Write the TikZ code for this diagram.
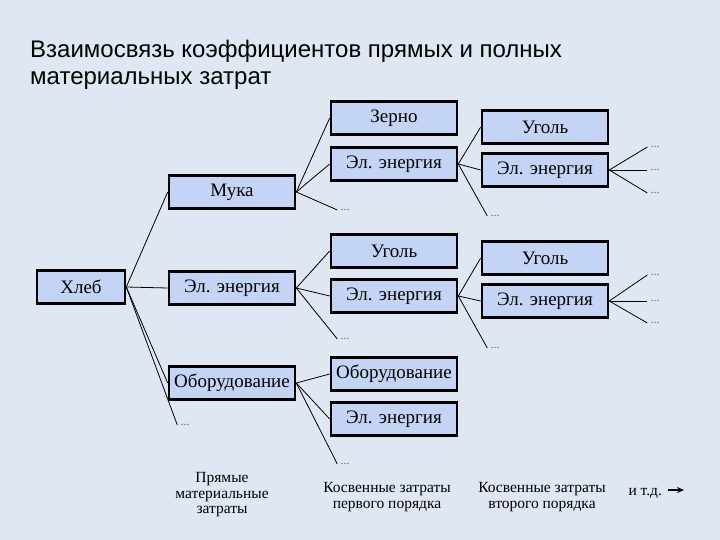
\documentclass[tikz,border=0pt]{standalone}
\usepackage{fontspec}
\setmainfont{Liberation Serif}
\newfontfamily\titlefont{Liberation Sans}
\usetikzlibrary{arrows.meta}
\definecolor{slideBg}{HTML}{DFE8F2}
\definecolor{boxFill}{HTML}{C4D4F4}
\definecolor{dotGray}{HTML}{6A6A6A}

\begin{document}
\begin{tikzpicture}[x=1bp, y=-1bp,
      bx/.style={draw=black, line width=2.6bp, fill=boxFill,
                 minimum width=126bp, minimum height=33bp, inner sep=1bp,
                 font=\fontsize{19bp}{20bp}\selectfont},
      dt/.style={inner sep=0pt, text=dotGray, font=\fontsize{12bp}{12bp}\selectfont},
      lab/.style={align=center, font=\fontsize{15.5bp}{15.5bp}\selectfont},
      ln/.style={line width=0.8bp, black}]
    \useasboundingbox (0,0) rectangle (720,540);
    \fill[slideBg] (0,0) rectangle (720,540);
    \node[anchor=north west, inner sep=0pt, align=left,
          font=\titlefont\fontsize{24bp}{27bp}\selectfont] (ti) at (30,40)
      {Взаимосвязь коэффициентов прямых и полных\\материальных затрат};
    % прямые затраты
    \node[bx, minimum width=88bp] (xl) at (81,287) {Хлеб};
    \node[bx] (mu)  at (232,192) {Мука};
    \node[bx] (ee1) at (232,288) {Эл. энергия};
    \node[bx] (ob1) at (232,383) {Оборудование};
    \node[dt] (d1)  at (185,425) {...};
    % первого порядка
    \node[bx] (ze)   at (394,118) {Зерно};
    \node[bx] (ee2a) at (394,164) {Эл. энергия};
    \node[dt] (d2a)  at (345,210) {...};
    \node[bx] (ug2b) at (394,251) {Уголь};
    \node[bx] (ee2b) at (394,296) {Эл. энергия};
    \node[dt] (d2b)  at (345,339) {...};
    \node[bx] (ob2c) at (394,374) {Оборудование};
    \node[bx] (ee2c) at (394,419) {Эл. энергия};
    \node[dt] (d2c)  at (345,464) {...};
    % второго порядка
    \node[bx] (ug3a) at (545,127) {Уголь};
    \node[bx] (ee3a) at (545,170) {Эл. энергия};
    \node[dt] (d3a)  at (495,216) {...};
    \node[bx] (ug3b) at (545,258) {Уголь};
    \node[bx] (ee3b) at (545,301) {Эл. энергия};
    \node[dt] (d3b)  at (495,348) {...};
    \foreach \n/\y in {a1/147,a2/170,a3/193,b1/275,b2/301,b3/323}
      {\node[dt] (d4\n) at (655,\y) {...};}
    % связи
    \foreach \a/\b in {xl/mu,xl/ee1,xl/ob1,mu/ze,mu/ee2a,ee1/ug2b,ee1/ee2b,
                       ob1/ob2c,ob1/ee2c,ee2a/ug3a,ee2a/ee3a,ee2b/ug3b,ee2b/ee3b}
      {\draw[ln] (\a.east)--(\b.west);}
    \foreach \a/\b in {xl/d1,mu/d2a,ee1/d2b,ob1/d2c,ee2a/d3a,ee2b/d3b,
                       ee3a/d4a1,ee3a/d4a2,ee3a/d4a3,ee3b/d4b1,ee3b/d4b2,ee3b/d4b3}
      {\draw[ln] (\a.east)--([xshift=-3bp]\b.west);}
    % подписи
    \node[lab] (lp) at (222,495) {Прямые\\материальные\\затраты};
    \node[lab] (l1) at (387,497) {Косвенные затраты\\первого порядка};
    \node[lab] (l2) at (542,497) {Косвенные затраты\\второго порядка};
    \node[lab, anchor=base west] (etc) at (625,495) {и т.д.};
    \coordinate (ar) at (684,490);
    \draw[line width=1.2bp, -{Stealth[length=7bp, width=6bp]}]
      ([xshift=3bp]etc.east |- ar) -- (ar);
  \end{tikzpicture}
\end{document}
